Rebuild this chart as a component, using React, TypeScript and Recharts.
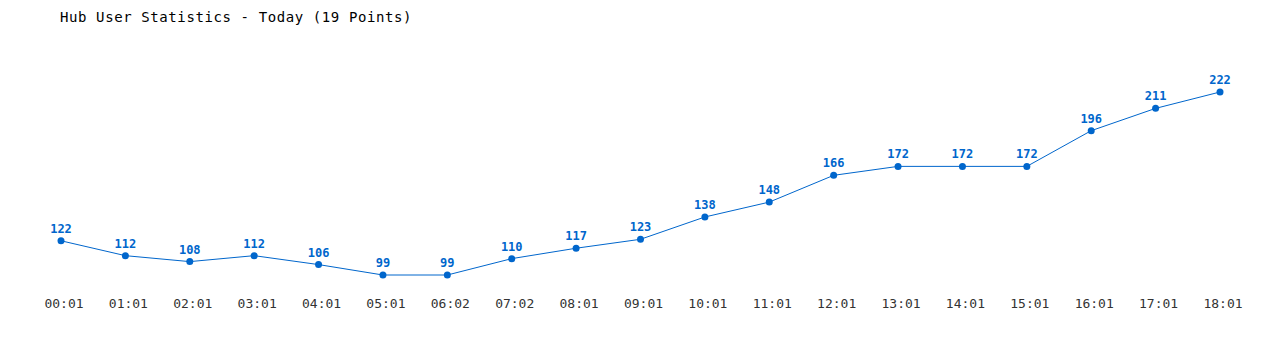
import React from 'react';
import { LineChart, Line, XAxis, YAxis, LabelList } from 'recharts';

const times = [
  '00:01', '01:01', '02:01', '03:01', '04:01', '05:01', '06:02', '07:02', '08:01', '09:01',
  '10:01', '11:01', '12:01', '13:01', '14:01', '15:01', '16:01', '17:01', '18:01',
];
const users = [122, 112, 108, 112, 106, 99, 99, 110, 117, 123, 138, 148, 166, 172, 172, 172, 196, 211, 222];

const chartData = times.map((time, i) => ({ time, users: users[i] }));

const FONT = '"DejaVu Sans Mono", "Liberation Mono", monospace';
const BLUE = '#0066cc';

const App: React.FC = () => {
  return (
    <div style={{ position: 'relative', width: 1264, height: 342, fontFamily: FONT }}>
      <div
        style={{
          position: 'absolute',
          left: 52,
          top: 1,
          fontSize: 14,
          letterSpacing: 0.6,
          color: '#000',
          whiteSpace: 'pre',
        }}
      >
        Hub User Statistics - Today (19 Points)
      </div>
      <LineChart
        width={1264}
        height={342}
        data={chartData}
        margin={{ top: 84, right: 52, bottom: 0, left: 53 }}
      >
        <XAxis
          dataKey="time"
          axisLine={false}
          tickLine={false}
          tickMargin={18}
          height={75}
          interval={0}
          tick={{ fill: '#333', fontSize: 13, fontFamily: FONT, dx: 3 }}
        />
        <YAxis hide domain={[99, 222]} />
        <Line
          type="linear"
          dataKey="users"
          stroke={BLUE}
          strokeWidth={1}
          dot={{ r: 3.5, fill: BLUE, stroke: BLUE, strokeWidth: 0 }}
          isAnimationActive={false}
        >
          <LabelList
            dataKey="users"
            position="top"
            offset={8}
            style={{ fill: BLUE, fontSize: 12, fontWeight: 'bold', fontFamily: FONT }}
          />
        </Line>
      </LineChart>
    </div>
  );
};

export default App;
